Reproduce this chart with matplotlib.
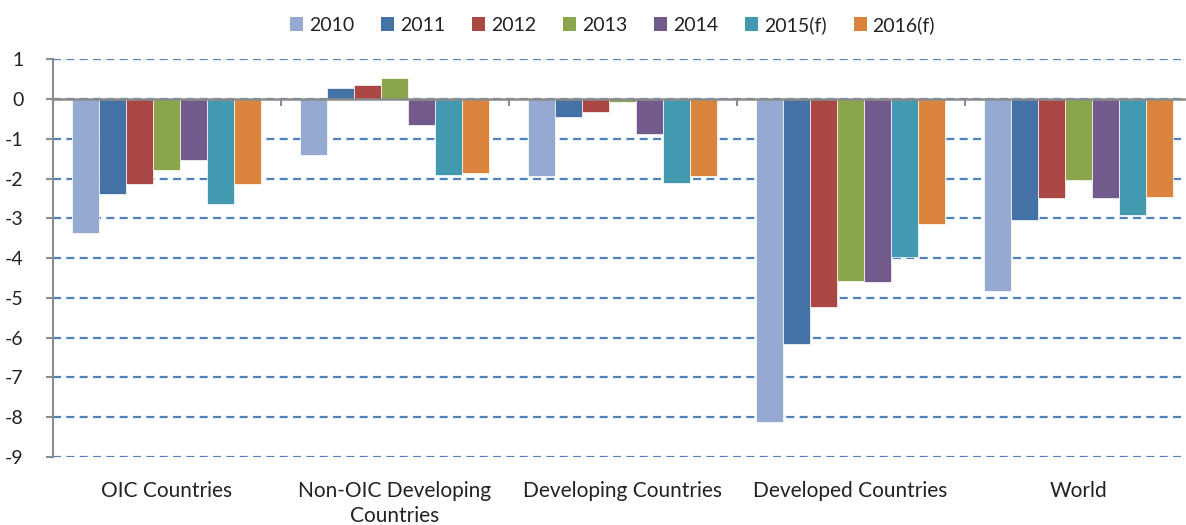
import matplotlib.pyplot as plt
import matplotlib.transforms as mtransforms
from matplotlib.patches import Patch
import numpy as np

plt.rcParams['font.family'] = ['Lato', 'DejaVu Sans']

categories = ["OIC Countries", "Non-OIC Developing\nCountries", "Developing Countries",
              "Developed Countries", "World"]
years = ["2010", "2011", "2012", "2013", "2014", "2015(f)", "2016(f)"]

v2010 = [-3.38, -1.40, -1.94, -8.13, -4.82]
v2011 = [-2.38, 0.29, -0.44, -6.15, -3.03]
v2012 = [-2.14, 0.35, -0.32, -5.22, -2.50]
v2013 = [-1.78, 0.53, -0.07, -4.58, -2.04]
v2014 = [-1.53, -0.66, -0.89, -4.59, -2.48]
v2015 = [-2.64, -1.92, -2.11, -3.98, -2.91]
v2016 = [-2.13, -1.86, -1.93, -3.15, -2.45]
series = [v2010, v2011, v2012, v2013, v2014, v2015, v2016]

colors = ["#95A9D1", "#4472A6", "#AA4644", "#8AA54C", "#725A8D", "#4299B0", "#DB843E"]

fig = plt.figure(figsize=(11.86, 5.25), dpi=100)
ax = fig.add_axes([52.5 / 1186, 1 - 457 / 525, 1140 / 1186, (457 - 59.3) / 525])

x = np.arange(len(categories))
w = 0.1178
for i, (vals, c) in enumerate(zip(series, colors)):
    ax.bar(x + (i - 3) * w, vals, w, color=c, edgecolor="white", linewidth=0.5,
           zorder=3, label=years[i])

ax.set_xlim(-0.5, len(categories) - 0.5)
ax.set_ylim(-9, 1)
ax.set_yticks(range(-9, 2))
ax.set_yticklabels([str(v) for v in range(-9, 2)], fontsize=14, color="#222222")
ax.tick_params(axis="y", length=5, width=1.5, color="#8c8c8c", pad=16)

# dashed gridlines
ax.yaxis.grid(True, color="#4F81BD", linewidth=1.6, linestyle=(0, (3.6, 2.4)), zorder=1)

# spines
for s in ["top", "right"]:
    ax.spines[s].set_visible(False)
ax.spines["left"].set_color("#8c8c8c")
ax.spines["left"].set_linewidth(1.5)
ax.spines["bottom"].set_position(("data", 0))
ax.spines["bottom"].set_color("#8c8c8c")
ax.spines["bottom"].set_linewidth(1.8)
ax.spines["bottom"].set_zorder(4)
ax.set_xticks(np.arange(len(categories) + 1) - 0.5)
ax.set_xticklabels([])
ax.tick_params(axis="x", length=5, width=1.5, color="#8c8c8c", direction="out")

# category labels below the plot
trans = mtransforms.blended_transform_factory(ax.transData, ax.transAxes)
for xi, name in zip(x, categories):
    ax.text(xi, -0.061, name, transform=trans, ha="center", va="top",
            fontsize=15, color="#222222", linespacing=1.3)

handles = [Patch(facecolor=c, edgecolor="none") for c in colors]
fig.legend(handles, years, ncol=7, loc="center", bbox_to_anchor=(0.5165, 1 - 25 / 525),
           frameon=False, fontsize=14, handlelength=0.65, handleheight=0.7,
           handletextpad=0.31, columnspacing=1.4, labelcolor="#222222")

fig.savefig("out.png", dpi=100)
